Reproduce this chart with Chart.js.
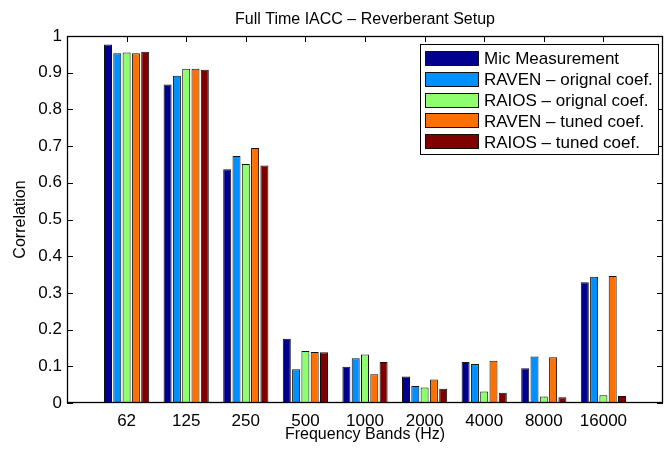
<!DOCTYPE html>
<html>
<head>
<meta charset="utf-8">
<script src="https://cdn.jsdelivr.net/npm/chart.js"></script>
<style>
  html, body { margin: 0; padding: 0; background: #fff; }
</style>
</head>
<body>
<canvas id="myChart" width="671" height="452"></canvas>
<script>
// Data
var bands = ["62", "125", "250", "500", "1000", "2000", "4000", "8000", "16000"];
var micMeasurement = [0.977, 0.868, 0.637, 0.175, 0.099, 0.072, 0.112, 0.095, 0.329];
var ravenOriginal  = [0.953, 0.892, 0.673, 0.092, 0.122, 0.046, 0.106, 0.127, 0.344];
var raiosOriginal  = [0.955, 0.911, 0.651, 0.142, 0.132, 0.042, 0.031, 0.018, 0.021];
var ravenTuned     = [0.953, 0.911, 0.695, 0.139, 0.078, 0.064, 0.115, 0.125, 0.346];
var raiosTuned     = [0.957, 0.908, 0.647, 0.138, 0.112, 0.039, 0.028, 0.016, 0.019];
var seriesNames = [
  "Mic Measurement",
  "RAVEN \u2013 orignal coef.",
  "RAIOS \u2013 orignal coef.",
  "RAVEN \u2013 tuned coef.",
  "RAIOS \u2013 tuned coef."
];
var seriesColors = ["#00008f", "#008fff", "#8fff70", "#ff7000", "#800000"];
var yTickValues = [0, 0.1, 0.2, 0.3, 0.4, 0.5, 0.6, 0.7, 0.8, 0.9, 1];

// empty slot on both sides, like xlim [0 10] in matlab
var labels = [""].concat(bands, [""]);
function pad(arr) { return [null].concat(arr, [null]); }

var allSeries = [micMeasurement, ravenOriginal, raiosOriginal, ravenTuned, raiosTuned];
var datasets = allSeries.map(function(vals, i) {
  return {
    label: seriesNames[i],
    data: pad(vals),
    backgroundColor: seriesColors[i],
    borderColor: "#111",
    borderWidth: 1,
    categoryPercentage: 0.78,
    barPercentage: 0.86
  };
});

var FONT = "'Liberation Sans', Arial, Helvetica, sans-serif";
Chart.defaults.font.family = FONT;
Chart.defaults.font.size = 16;
Chart.defaults.color = "#000";

// inward ticks, box, legend and title the matlab way
var matlabAxes = {
  id: "matlabAxes",
  beforeDatasetsDraw: function(chart) {
    var ctx = chart.ctx, a = chart.chartArea;
    var xs = chart.scales.x, ys = chart.scales.y;
    var len = 6;
    ctx.save();
    ctx.strokeStyle = "#000";
    ctx.lineWidth = 1;
    ctx.beginPath();
    ys.ticks.forEach(function(t) {
      var y = Math.round(ys.getPixelForValue(t.value)) + 0.5;
      ctx.moveTo(a.left, y); ctx.lineTo(a.left + len, y);
      ctx.moveTo(a.right, y); ctx.lineTo(a.right - len, y);
    });
    xs.ticks.forEach(function(t, i) {
      if (labels[i] === "") return;
      var x = Math.round(xs.getPixelForTick(i)) + 0.5;
      ctx.moveTo(x, a.bottom); ctx.lineTo(x, a.bottom - len);
      ctx.moveTo(x, a.top); ctx.lineTo(x, a.top + len);
    });
    ctx.stroke();
    ctx.restore();
  },
  afterDatasetsDraw: function(chart) {
    var ctx = chart.ctx, a = chart.chartArea;
    ctx.save();
    ctx.strokeStyle = "#000";
    ctx.lineWidth = 1.3;
    ctx.strokeRect(Math.round(a.left) + 0.5, Math.round(a.top) + 0.5,
                   Math.round(a.right - a.left) - 1, Math.round(a.bottom - a.top) - 1);

    // legend box
    ctx.lineWidth = 1;
    var bx = 420.5, by = 44.5, bw = 238, bh = 110;
    ctx.fillStyle = "#fff";
    ctx.fillRect(bx, by, bw, bh);
    ctx.strokeRect(bx, by, bw, bh);
    ctx.font = "17px " + FONT;
    ctx.textAlign = "left";
    ctx.textBaseline = "alphabetic";
    chart.data.datasets.forEach(function(ds, i) {
      var cy = 58 + i * 20.8;
      ctx.fillStyle = ds.backgroundColor;
      ctx.fillRect(425, Math.round(cy - 7), 53, 14);
      ctx.strokeStyle = "#111";
      ctx.strokeRect(425.5, Math.round(cy - 7) + 0.5, 53, 14);
      ctx.fillStyle = "#000";
      ctx.fillText(ds.label, 484, cy + 6.3);
    });
    ctx.restore();
  },
  afterDraw: function(chart) {
    var ctx = chart.ctx, a = chart.chartArea;
    ctx.save();
    ctx.font = "16px " + FONT;
    ctx.fillStyle = "#000";
    ctx.textAlign = "center";
    ctx.textBaseline = "alphabetic";
    ctx.fillText("Full Time IACC \u2013 Reverberant Setup", (a.left + a.right) / 2, 23.5);
    ctx.restore();
  }
};

new Chart("myChart", {
  type: "bar",
  data: {
    labels: labels,
    datasets: datasets
  },
  options: {
    responsive: false,
    animation: false,
    devicePixelRatio: 1,
    layout: { padding: { top: 36, right: 5, left: 0, bottom: 0 } },
    plugins: {
      legend: { display: false },
      title: { display: false },
      tooltip: { enabled: false }
    },
    scales: {
      x: {
        offset: false,
        grid: { display: false, drawTicks: false },
        border: { display: false },
        ticks: { autoSkip: false, maxRotation: 0, padding: 8, font: { size: 17 } },
        title: { display: true, text: "Frequency Bands (Hz)", padding: { top: 0, bottom: 8 } },
        afterFit: function(scale) { scale.height = 49; }
      },
      y: {
        min: 0,
        max: 1,
        grid: { display: false, drawTicks: false },
        border: { display: false },
        ticks: {
          stepSize: 0.1,
          padding: 5,
          font: { size: 17 },
          callback: function(v) { return String(+v.toFixed(1)); }
        },
        afterBuildTicks: function(scale) {
          scale.ticks = yTickValues.map(function(v) { return { value: v }; });
        },
        title: { display: true, text: "Correlation", padding: { top: 11, bottom: 0 } },
        afterFit: function(scale) { scale.width = 67; }
      }
    }
  },
  plugins: [matlabAxes]
});
</script>
</body>
</html>
